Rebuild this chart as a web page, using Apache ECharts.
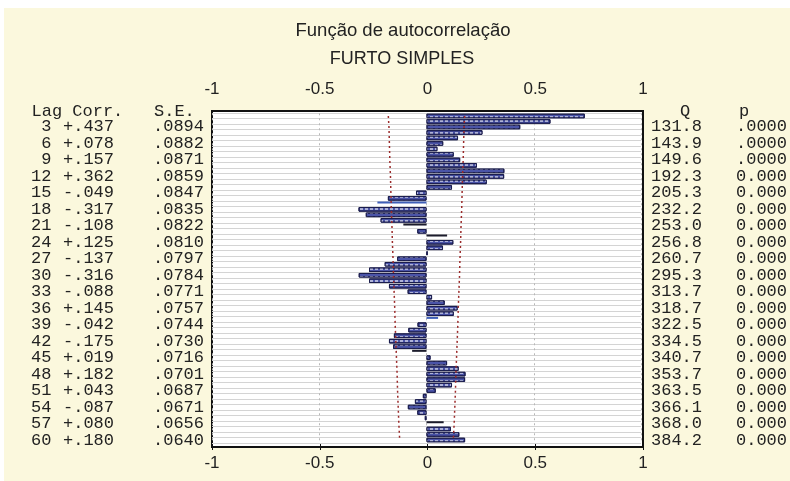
<!DOCTYPE html>
<html>
<head>
<meta charset="utf-8">
<script src="https://cdn.jsdelivr.net/npm/echarts@6/dist/echarts.min.js"></script>
<style>
  html, body { margin: 0; padding: 0; background: #fff; }
  #chart { width: 790px; height: 481px; }
</style>
</head>
<body>
<div id="chart"></div>
<script>
// autocorrelation by lag (1..60)
const lags = Array.from({ length: 60 }, (_, i) => String(i + 1))
const acf = [
  0.738, 0.578, 0.437, 0.261, 0.147, 0.078, 0.051, 0.127, 0.157, 0.235,
  0.363, 0.362, 0.281, 0.119, -0.049, -0.180, -0.229, -0.317, -0.283, -0.214,
  -0.108, -0.043, 0.096, 0.125, 0.077, 0.005, -0.137, -0.195, -0.268, -0.316,
  -0.268, -0.175, -0.088, 0.026, 0.085, 0.145, 0.127, 0.054, -0.042, -0.085,
  -0.152, -0.175, -0.156, -0.067, 0.019, 0.096, 0.150, 0.182, 0.180, 0.119,
  0.043, -0.017, -0.054, -0.087, -0.043, -0.008, 0.080, 0.114, 0.153, 0.180
]

// table printed beside the plot (every 3rd lag)
const tableLags = ['3', '6', '9', '12', '15', '18', '21', '24', '27', '30',
  '33', '36', '39', '42', '45', '48', '51', '54', '57', '60']
const corrText = ['+.437', '+.078', '+.157', '+.362', '-.049', '-.317', '-.108', '+.125', '-.137', '-.316',
  '-.088', '+.145', '-.042', '-.175', '+.019', '+.182', '+.043', '-.087', '+.080', '+.180']
const seText = ['.0894', '.0882', '.0871', '.0859', '.0847', '.0835', '.0822', '.0810', '.0797', '.0784',
  '.0771', '.0757', '.0744', '.0730', '.0716', '.0701', '.0687', '.0671', '.0656', '.0640']
const qText = ['131.8', '143.9', '149.6', '192.3', '205.3', '232.2', '253.0', '256.8', '260.7', '295.3',
  '313.7', '318.7', '322.5', '334.5', '340.7', '353.7', '363.5', '366.1', '368.0', '384.2']
const pText = ['.0000', '.0000', '.0000', '0.000', '0.000', '0.000', '0.000', '0.000', '0.000', '0.000',
  '0.000', '0.000', '0.000', '0.000', '0.000', '0.000', '0.000', '0.000', '0.000', '0.000']

// confidence limits (dotted red lines)
const bandLags = ['1', '3', '6', '9', '12', '15', '18', '21', '24', '27', '30',
  '33', '36', '39', '42', '45', '48', '51', '54', '57', '60']
const bandLimit = [0.178, 0.175, 0.173, 0.171, 0.168, 0.166, 0.164, 0.161, 0.159, 0.156, 0.154,
  0.151, 0.148, 0.146, 0.143, 0.140, 0.137, 0.135, 0.132, 0.129, 0.125]

const xTicks = ['-1', '-0.5', '0', '0.5', '1']

const mono = 'Liberation Mono'
const sans = 'Liberation Sans'

// rows that render as a thin stroke in the original
const thinDark = ['21', '23', '44', '57']
const thinBlue = ['17', '38']
const isThin = l => thinDark.includes(l) || thinBlue.includes(l)

const rowOf = v => tableLags.indexOf(v)

const monoRich = (w, align) => ({
  fontFamily: mono, fontSize: 17, lineHeight: 11, height: 11, width: w, align: align, color: '#222'
})

const chart = echarts.init(document.getElementById('chart'))

const option = {
  animation: false,
  backgroundColor: 'transparent',
  title: [
    {
      text: 'Função de autocorrelação',
      left: 398, top: 16, textAlign: 'center',
      textStyle: { fontFamily: sans, fontSize: 18.5, fontWeight: 'normal', color: '#222' }
    },
    {
      text: 'FURTO SIMPLES',
      left: 397, top: 45, textAlign: 'center',
      textStyle: { fontFamily: sans, fontSize: 18, fontWeight: 'normal', color: '#222' }
    }
  ],
  graphic: [
    { type: 'rect', z: -100, shape: { x: 4, y: 8, width: 786, height: 473 }, style: { fill: '#fbf8dd' } },
    { type: 'text', x: 31.5, y: 111.5, style: { text: 'Lag Corr.', font: '17px ' + mono, fill: '#222', verticalAlign: 'middle' } },
    { type: 'text', x: 154, y: 111.5, style: { text: 'S.E.', font: '17px ' + mono, fill: '#222', verticalAlign: 'middle' } },
    { type: 'text', x: 680, y: 111.5, style: { text: 'Q', font: '17px ' + mono, fill: '#222', verticalAlign: 'middle' } },
    { type: 'text', x: 739, y: 111.5, style: { text: 'p', font: '17px ' + mono, fill: '#222', verticalAlign: 'middle' } }
  ],
  grid: [
    { left: 212, right: 147, top: 113.25, bottom: 38.25, containLabel: false },
    { left: 212, right: 147, top: 111, bottom: 34, show: true, z: -10,
      backgroundColor: '#fff', borderColor: '#111', borderWidth: 2 }
  ],
  xAxis: [
    {
      gridIndex: 0, type: 'value', min: -1, max: 1, interval: 0.5,
      axisLine: { show: false }, axisTick: { show: false }, axisLabel: { show: false },
      splitLine: { show: true, lineStyle: { color: '#b8b8b8', type: [2, 3], width: 1 } }
    },
    {
      gridIndex: 1, type: 'value', position: 'top', min: -1, max: 1, interval: 0.5,
      axisLine: { show: false }, splitLine: { show: false },
      axisTick: { show: true, inside: true, length: 3, lineStyle: { color: '#111' } },
      axisLabel: {
        margin: 13, fontFamily: sans, fontSize: 17, color: '#222',
        formatter: v => xTicks[Math.round((v + 1) / 0.5)]
      }
    },
    {
      gridIndex: 1, type: 'value', position: 'bottom', min: -1, max: 1, interval: 0.5,
      axisLine: { show: false }, splitLine: { show: false },
      axisTick: { show: true, inside: true, length: 3, lineStyle: { color: '#111' } },
      axisLabel: {
        margin: 8, fontFamily: sans, fontSize: 17, color: '#222',
        formatter: v => xTicks[Math.round((v + 1) / 0.5)]
      }
    }
  ],
  yAxis: [
    {
      gridIndex: 0, type: 'category', data: lags, inverse: true, position: 'left',
      axisLine: { show: false }, axisTick: { show: false },
      splitLine: { show: true, interval: 0, lineStyle: { color: '#d4d4d4', width: 1 } },
      axisLabel: {
        margin: 8, color: '#222', fontFamily: mono, fontSize: 17, lineHeight: 11,
        showMinLabel: true, showMaxLabel: true, hideOverlap: false,
        interval: 0,
        formatter: v => {
          const r = rowOf(v)
          if (r < 0) return ''
          return '{l|' + tableLags[r] + '}{c|' + corrText[r] + '}{s|' + seText[r] + '}'
        },
        rich: { l: monoRich(21, 'right'), c: monoRich(62.5, 'right'), s: monoRich(90, 'right') }
      }
    },
    {
      gridIndex: 0, type: 'category', data: lags, inverse: true, position: 'right',
      axisLine: { show: false }, axisTick: { show: false }, splitLine: { show: false },
      axisLabel: {
        margin: 10, color: '#222', fontFamily: mono, fontSize: 17, lineHeight: 11,
        showMinLabel: true, showMaxLabel: true, hideOverlap: false,
        interval: 0,
        formatter: v => {
          const r = rowOf(v)
          if (r < 0) return ''
          return '{q|' + qText[r] + '}{p|' + pText[r] + '}'
        },
        rich: { q: monoRich(51, 'left'), p: monoRich(85, 'right') }
      }
    },
    { gridIndex: 1, type: 'value', show: false }
  ],
  series: [
    {
      name: 'acf-thin',
      type: 'bar',
      xAxisIndex: 0, yAxisIndex: 0,
      barWidth: 2, barGap: '-100%',
      data: acf.map((v, i) => {
        const l = lags[i]
        if (!isThin(l)) return null
        return { value: v, itemStyle: { color: thinDark.includes(l) ? '#1c1c2c' : '#3f5fb8' } }
      })
    },
    {
      name: 'acf',
      type: 'bar',
      xAxisIndex: 0, yAxisIndex: 0,
      barWidth: 4.6, barGap: '-100%',
      data: acf.map((v, i) => isThin(lags[i]) ? null : v),
      itemStyle: {
        color: '#4b54a8',
        borderColor: '#1b1d4e',
        borderWidth: 1,
        decal: {
          symbol: 'rect', symbolSize: 1, color: 'rgba(255,255,255,0.55)',
          dashArrayX: [[3, 2]], dashArrayY: [2, 2], rotation: 0
        }
      }
    },
    {
      name: 'upper',
      type: 'line',
      xAxisIndex: 0, yAxisIndex: 0,
      showSymbol: false,
      data: bandLags.map((l, i) => [bandLimit[i], l]),
      lineStyle: { color: '#9b2a2a', type: [2, 3], width: 1.5 }
    },
    {
      name: 'lower',
      type: 'line',
      xAxisIndex: 0, yAxisIndex: 0,
      showSymbol: false,
      data: bandLags.map((l, i) => [-bandLimit[i], l]),
      lineStyle: { color: '#9b2a2a', type: [2, 3], width: 1.5 }
    }
  ]
}

chart.setOption(option)
</script>
</body>
</html>
